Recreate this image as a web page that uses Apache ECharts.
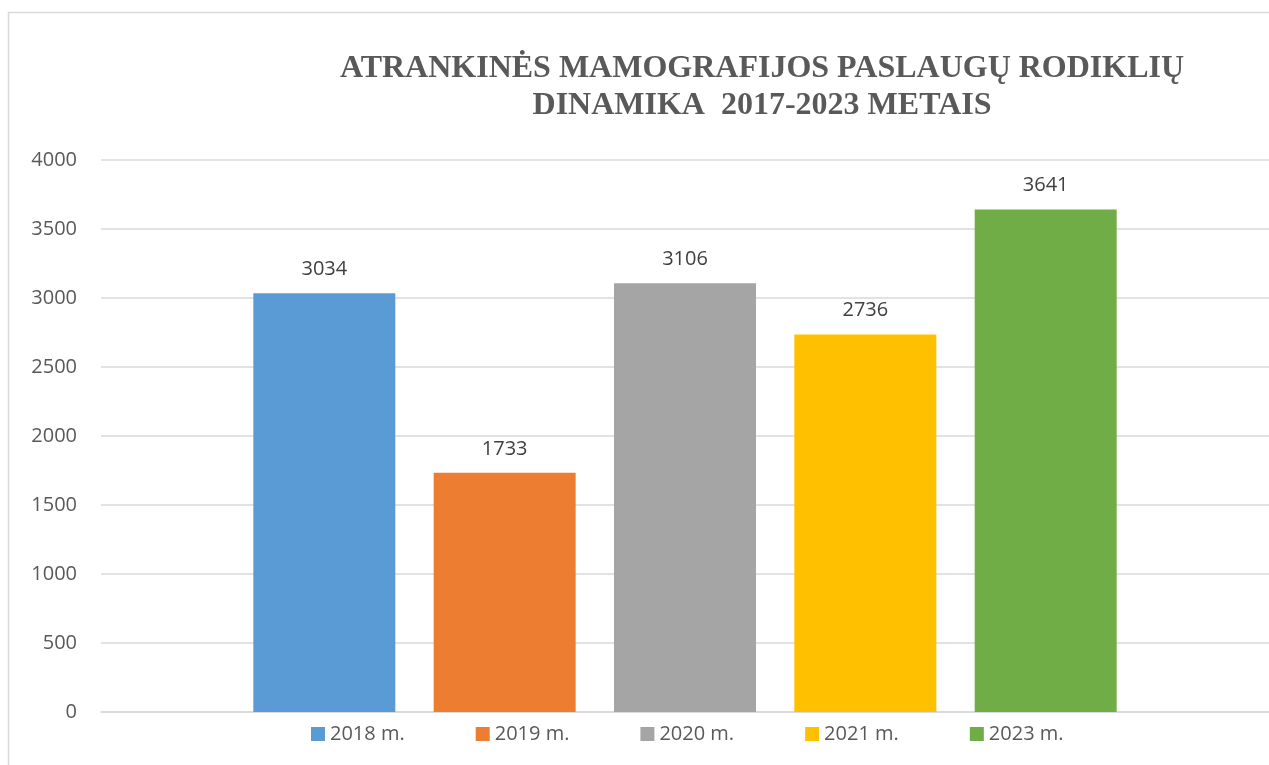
<!DOCTYPE html>
<html>
<head>
<meta charset="utf-8">
<title>Atrankinės mamografijos paslaugų rodiklių dinamika</title>
<script src="https://cdn.jsdelivr.net/npm/echarts@6/dist/echarts.min.js"></script>
<style>
  html, body { margin: 0; padding: 0; background: #fff; }
  #chart { width: 1269px; height: 765px; }
</style>
</head>
<body>
<div id="chart"></div>
<script>
  // duomenys
  var seriesNames = ['2018 m.', '2019 m.', '2020 m.', '2021 m.', '2023 m.']
  var seriesValues = [3034, 1733, 3106, 2736, 3641]
  var seriesColors = ['#5b9bd5', '#ed7d31', '#a5a5a5', '#ffc000', '#70ad47']
  var categories = ['']
  var yTicks = [0, 500, 1000, 1500, 2000, 2500, 3000, 3500, 4000]

  var textColor = '#595959'
  var gridColor = '#d9d9d9'
  var labelFont = 'Open Sans'

  var myChart = echarts.init(document.getElementById('chart'))

  var option = {
    backgroundColor: '#fff',
    animation: false,
    title: {
      text: 'ATRANKINĖS MAMOGRAFIJOS PASLAUGŲ RODIKLIŲ\nDINAMIKA  2017-2023 METAIS',
      left: 762,
      top: 50,
      padding: 0,
      textAlign: 'center',
      textStyle: {
        fontFamily: 'Liberation Serif',
        fontWeight: 'bold',
        fontSize: 32,
        lineHeight: 37,
        color: textColor
      }
    },
    graphic: [{
      type: 'rect',
      z: -10,
      shape: { x: 8.5, y: 12.5, width: 1300, height: 800 },
      style: { fill: 'none', stroke: gridColor, lineWidth: 1.5 }
    }],
    legend: {
      data: seriesNames,
      left: 311,
      top: 724,
      padding: 0,
      itemWidth: 14,
      itemHeight: 14,
      itemGap: 71,
      icon: 'rect',
      textStyle: {
        fontFamily: labelFont,
        fontSize: 20,
        color: textColor
      }
    },
    grid: {
      left: 101,
      top: 160,
      width: 1177,
      height: 552
    },
    xAxis: {
      type: 'category',
      data: categories,
      axisLine: { show: true, lineStyle: { color: gridColor, width: 1.5 } },
      axisTick: { show: false },
      axisLabel: { show: false },
      splitLine: { show: false }
    },
    yAxis: {
      type: 'value',
      min: yTicks[0],
      max: yTicks[yTicks.length - 1],
      interval: 500,
      axisLine: { show: false },
      axisTick: { show: false },
      axisLabel: {
        margin: 24,
        fontFamily: labelFont,
        fontSize: 20,
        color: textColor,
        formatter: function (value) {
          return String(value)
        }
      },
      splitLine: { show: true, lineStyle: { color: gridColor, width: 1.5 } }
    },
    series: []
  }

  for (var i = 0; i < seriesNames.length; i++) {
    option.series.push({
      name: seriesNames[i],
      type: 'bar',
      barWidth: 142,
      barGap: '27%',
      itemStyle: { color: seriesColors[i] },
      label: {
        show: true,
        position: 'top',
        distance: 14,
        fontFamily: labelFont,
        fontSize: 20,
        color: '#404040'
      },
      data: [seriesValues[i]]
    })
  }

  myChart.setOption(option)
</script>
</body>
</html>
